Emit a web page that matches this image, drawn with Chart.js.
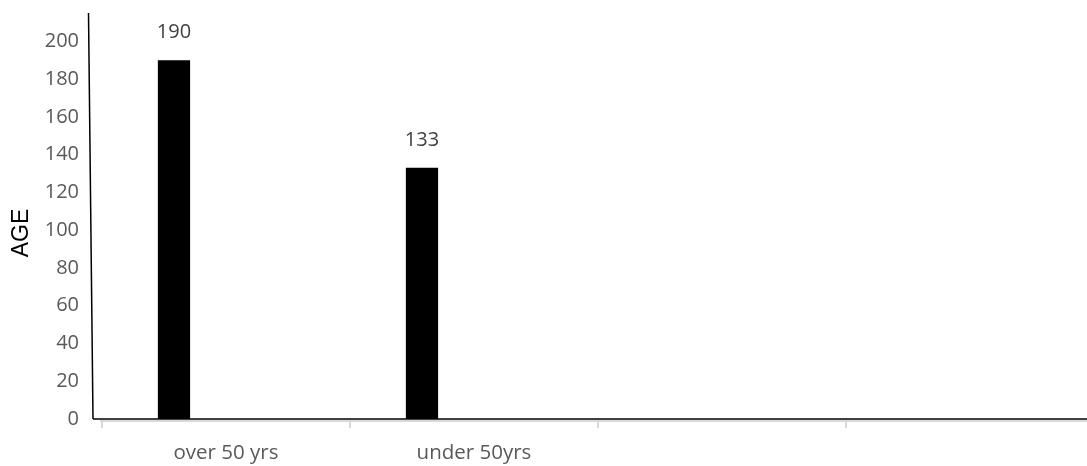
<!DOCTYPE html>
<html>
<head>
<meta charset="utf-8">
<script src="https://cdn.jsdelivr.net/npm/chart.js@4.4.0/dist/chart.umd.min.js"></script>
<style>
    html, body { margin: 0; padding: 0; background: #fff; overflow: hidden; }
    #wrap { width: 1100px; height: 466px; }
</style>
</head>
<body>
<div id="wrap"><canvas id="ageChart" width="1100" height="466"></canvas></div>
<script>
const categories = ["over 50 yrs", "under 50yrs", "", ""];
const counts = [190, 133, null, null];
const emptySeries = [null, null, null, null];
const yTickStep = 20;
const yMax = 215;
const yTitle = "AGE";

// black axis lines drawn by hand (the y line leans slightly like the original),
// plus the y title which sits a bit below the axis middle
const axisLines = {
    id: "axisLines",
    afterDraw(chart) {
        const ctx = chart.ctx;
        const area = chart.chartArea;
        ctx.save();
        ctx.strokeStyle = "#d9d9d9";
        ctx.lineWidth = 2;
        ctx.beginPath();
        ctx.moveTo(area.left - 2, area.bottom + 2);
        ctx.lineTo(chart.width, area.bottom + 2);
        ctx.stroke();

        ctx.strokeStyle = "#000";
        ctx.lineWidth = 1.5;
        ctx.beginPath();
        ctx.moveTo(area.left - 13.5, area.top);
        ctx.lineTo(area.left - 9, area.bottom);
        ctx.stroke();
        ctx.beginPath();
        ctx.moveTo(area.left - 9, area.bottom);
        ctx.lineTo(chart.width, area.bottom);
        ctx.stroke();

        ctx.translate(22, 233);
        ctx.rotate(-Math.PI / 2);
        ctx.font = "23px 'Liberation Sans'";
        ctx.fillStyle = "#000";
        ctx.textAlign = "center";
        ctx.textBaseline = "middle";
        ctx.fillText(yTitle, 0, 0);
        ctx.restore();
    },
};

// value above each bar
const barValues = {
    id: "barValues",
    afterDatasetsDraw(chart) {
        const ctx = chart.ctx;
        const meta = chart.getDatasetMeta(0);
        ctx.save();
        ctx.font = "20px 'Open Sans'";
        ctx.fillStyle = "#404040";
        ctx.textAlign = "center";
        ctx.textBaseline = "middle";
        meta.data.forEach((bar, i) => {
            if (counts[i] == null) return;
            ctx.fillText(counts[i], bar.x, bar.y - 28);
        });
        ctx.restore();
    },
};

new Chart(document.getElementById("ageChart"), {
    type: "bar",
    data: {
        labels: categories,
        datasets: [
            {
                data: counts,
                backgroundColor: "#000",
                categoryPercentage: 0.839,
                barPercentage: 0.31,
            },
            {
                data: emptySeries,
                backgroundColor: "#000",
                categoryPercentage: 0.839,
                barPercentage: 0.31,
            },
        ],
    },
    options: {
        responsive: false,
        animation: false,
        layout: { padding: { top: 13, right: 6, left: 0, bottom: 0 } },
        plugins: {
            legend: { display: false },
            tooltip: { enabled: false },
        },
        scales: {
            x: {
                border: { display: false },
                grid: {
                    drawOnChartArea: false,
                    drawTicks: true,
                    tickLength: 9,
                    color: "#d9d9d9",
                    lineWidth: 2,
                },
                ticks: {
                    color: "#595959",
                    font: { family: "'Open Sans'", size: 20.5 },
                    padding: 13,
                    maxRotation: 0,
                },
                afterFit(scale) {
                    scale.height = 47;
                    scale.paddingLeft = 0;
                    scale.paddingRight = 0;
                },
            },
            y: {
                min: 0,
                max: yMax,
                border: { display: false },
                grid: { display: false, drawTicks: false },
                ticks: {
                    stepSize: yTickStep,
                    color: "#595959",
                    font: { family: "'Open Sans'", size: 20 },
                    padding: 23,
                },
                afterBuildTicks(scale) {
                    scale.ticks = scale.ticks.filter((t) => t.value % yTickStep === 0);
                },
                afterFit(scale) {
                    scale.width = 102;
                    scale.paddingTop = 0;
                    scale.paddingBottom = 0;
                },
            },
        },
    },
    plugins: [axisLines, barValues],
});
</script>
</body>
</html>
